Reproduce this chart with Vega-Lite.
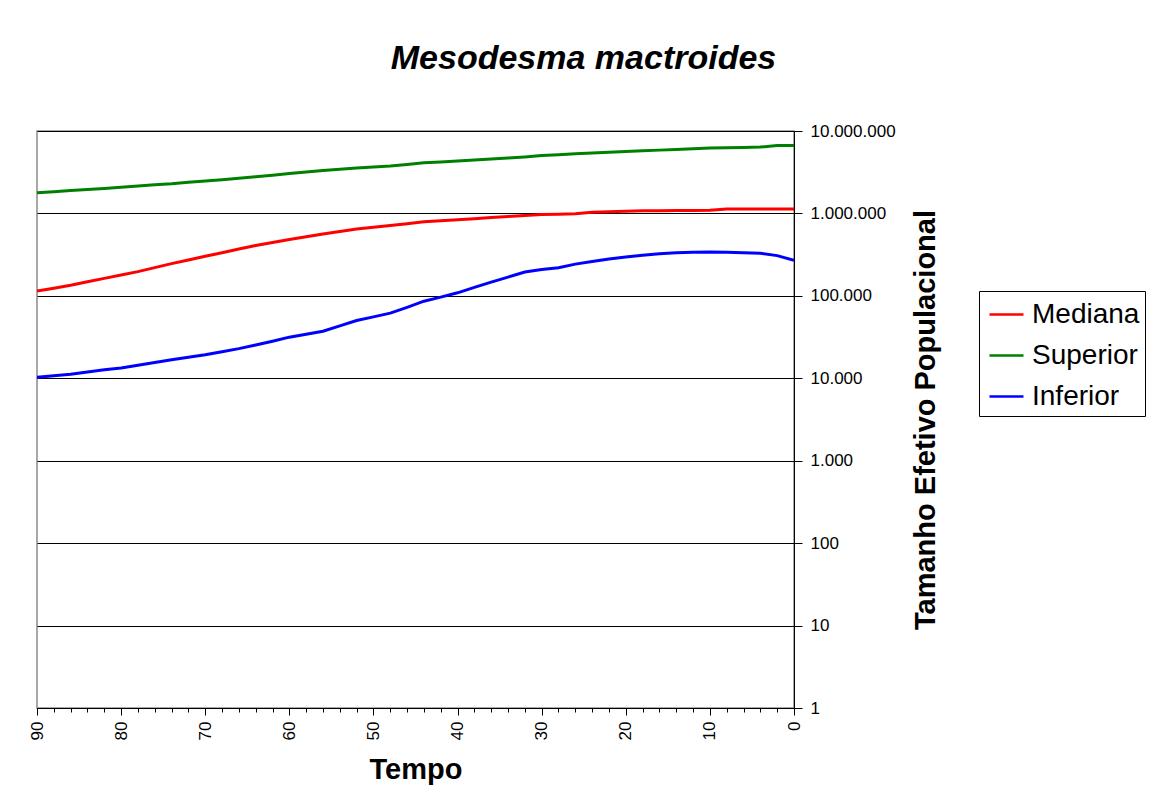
{
  "$schema": "https://vega.github.io/schema/vega-lite/v6.json",
  "width": 757,
  "height": 577,
  "autosize": {"type": "none"},
  "padding": {"left": 37, "top": 131, "right": 360, "bottom": 95},
  "background": "white",
  "title": {
    "text": "Mesodesma mactroides",
    "font": "Liberation Sans",
    "fontSize": 34,
    "fontWeight": "bold",
    "fontStyle": "italic",
    "color": "black",
    "anchor": "middle",
    "frame": "group",
    "baseline": "alphabetic",
    "dx": 168,
    "offset": 19
  },
  "config": {
    "view": {"stroke": "#8c8c8c", "strokeWidth": 1.5},
    "axis": {
      "labelFont": "Liberation Sans",
      "titleFont": "Liberation Sans",
      "labelColor": "black",
      "titleColor": "black",
      "domainColor": "black",
      "tickColor": "black"
    }
  },
  "data": {
    "values": [
      {"t": 90, "Mediana": 114300, "Superior": 1778000, "Inferior": 10280},
      {"t": 88, "Mediana": 123600, "Superior": 1837000, "Inferior": 10720},
      {"t": 86, "Mediana": 134600, "Superior": 1901000, "Inferior": 11220},
      {"t": 84, "Mediana": 148600, "Superior": 1954000, "Inferior": 11940},
      {"t": 82, "Mediana": 162900, "Superior": 2009000, "Inferior": 12680},
      {"t": 80, "Mediana": 179100, "Superior": 2084000, "Inferior": 13340},
      {"t": 78, "Mediana": 196800, "Superior": 2153000, "Inferior": 14360},
      {"t": 76, "Mediana": 219800, "Superior": 2223000, "Inferior": 15520},
      {"t": 74, "Mediana": 246000, "Superior": 2291000, "Inferior": 16830},
      {"t": 72, "Mediana": 272900, "Superior": 2388000, "Inferior": 17990},
      {"t": 70, "Mediana": 302700, "Superior": 2477000, "Inferior": 19280},
      {"t": 68, "Mediana": 334200, "Superior": 2570000, "Inferior": 20990},
      {"t": 66, "Mediana": 369800, "Superior": 2673000, "Inferior": 22910},
      {"t": 64, "Mediana": 408300, "Superior": 2786000, "Inferior": 25350},
      {"t": 62, "Mediana": 444600, "Superior": 2904000, "Inferior": 28180},
      {"t": 60, "Mediana": 481900, "Superior": 3055000, "Inferior": 31550},
      {"t": 58, "Mediana": 520000, "Superior": 3177000, "Inferior": 34280},
      {"t": 56, "Mediana": 562300, "Superior": 3311000, "Inferior": 37240},
      {"t": 54, "Mediana": 605300, "Superior": 3428000, "Inferior": 43250},
      {"t": 52, "Mediana": 648600, "Superior": 3548000, "Inferior": 50230},
      {"t": 50, "Mediana": 679200, "Superior": 3648000, "Inferior": 55590},
      {"t": 48, "Mediana": 712900, "Superior": 3750000, "Inferior": 61660},
      {"t": 46, "Mediana": 749900, "Superior": 3926000, "Inferior": 72440},
      {"t": 44, "Mediana": 790700, "Superior": 4111000, "Inferior": 86100},
      {"t": 42, "Mediana": 812800, "Superior": 4217000, "Inferior": 96610},
      {"t": 40, "Mediana": 835600, "Superior": 4325000, "Inferior": 108900},
      {"t": 38, "Mediana": 863000, "Superior": 4446000, "Inferior": 126500},
      {"t": 36, "Mediana": 891300, "Superior": 4560000, "Inferior": 146900},
      {"t": 34, "Mediana": 918400, "Superior": 4699000, "Inferior": 169000},
      {"t": 32, "Mediana": 944100, "Superior": 4842000, "Inferior": 195000},
      {"t": 30, "Mediana": 970500, "Superior": 5035000, "Inferior": 208400},
      {"t": 28, "Mediana": 979500, "Superior": 5152000, "Inferior": 219300},
      {"t": 26, "Mediana": 993100, "Superior": 5284000, "Inferior": 242700},
      {"t": 24, "Mediana": 1030000, "Superior": 5408000, "Inferior": 261200},
      {"t": 22, "Mediana": 1045000, "Superior": 5534000, "Inferior": 280500},
      {"t": 20, "Mediana": 1062000, "Superior": 5636000, "Inferior": 296500},
      {"t": 18, "Mediana": 1074000, "Superior": 5741000, "Inferior": 311900},
      {"t": 16, "Mediana": 1079000, "Superior": 5861000, "Inferior": 324300},
      {"t": 14, "Mediana": 1084000, "Superior": 5984000, "Inferior": 334200},
      {"t": 12, "Mediana": 1089000, "Superior": 6095000, "Inferior": 337300},
      {"t": 10, "Mediana": 1094000, "Superior": 6209000, "Inferior": 340400},
      {"t": 8, "Mediana": 1135000, "Superior": 6266000, "Inferior": 337300},
      {"t": 6, "Mediana": 1135000, "Superior": 6324000, "Inferior": 334200},
      {"t": 4, "Mediana": 1135000, "Superior": 6383000, "Inferior": 328100},
      {"t": 2, "Mediana": 1135000, "Superior": 6683000, "Inferior": 307600},
      {"t": 0, "Mediana": 1135000, "Superior": 6683000, "Inferior": 269800}
    ]
  },
  "transform": [
    {"fold": ["Mediana", "Superior", "Inferior"], "as": ["serie", "valor"]}
  ],
  "mark": {"type": "line", "strokeWidth": 3, "clip": true},
  "encoding": {
    "x": {
      "field": "t",
      "type": "quantitative",
      "scale": {"domain": [0, 90], "reverse": true, "nice": false},
      "axis": {
        "title": "Tempo",
        "titleFontSize": 29,
        "titleFontWeight": "bold",
        "titlePadding": 16,
        "values": [0, 2, 4, 6, 8, 10, 12, 14, 16, 18, 20, 22, 24, 26, 28, 30, 32, 34, 36, 38, 40, 42, 44, 46, 48, 50, 52, 54, 56, 58, 60, 62, 64, 66, 68, 70, 72, 74, 76, 78, 80, 82, 84, 86, 88, 90],
        "labelExpr": "datum.value % 10 === 0 ? datum.label : ''",
        "labelAngle": -90,
        "labelFontSize": 17,
        "labelOverlap": false,
        "labelFlush": false,
        "labelPadding": 6,
        "tickSize": {"condition": {"test": "datum.value % 10 === 0", "value": 7}, "value": 4},
        "grid": false
      }
    },
    "y": {
      "field": "valor",
      "type": "quantitative",
      "scale": {"type": "log", "domain": [1, 10000000], "nice": false},
      "axis": {
        "orient": "right",
        "title": "Tamanho Efetivo Populacional",
        "titleFontSize": 29,
        "titleFontWeight": "bold",
        "titleAngle": 270,
        "titleBaseline": "top",
        "titlePadding": 16,
        "values": [1, 10, 100, 1000, 10000, 100000, 1000000, 10000000],
        "labelExpr": "replace(format(datum.value, ','), regexp(',', 'g'), '.')",
        "labelFontSize": 17,
        "labelPadding": 8,
        "tickSize": 8,
        "grid": true,
        "gridColor": "black",
        "gridWidth": 1
      }
    },
    "color": {
      "field": "serie",
      "type": "nominal",
      "scale": {"domain": ["Mediana", "Superior", "Inferior"], "range": ["#ff0000", "#008000", "#0000ff"]},
      "legend": {
        "title": null,
        "orient": "none",
        "legendX": 942,
        "legendY": 160,
        "strokeColor": "black",
        "fillColor": "white",
        "padding": 5,
        "symbolOffset": 4,
        "symbolType": "stroke",
        "symbolSize": 1156,
        "symbolStrokeWidth": 2.5,
        "labelFont": "Liberation Sans",
        "labelFontSize": 28,
        "labelColor": "black",
        "labelLimit": 300,
        "labelOffset": 7,
        "rowPadding": 8
      }
    }
  }
}
